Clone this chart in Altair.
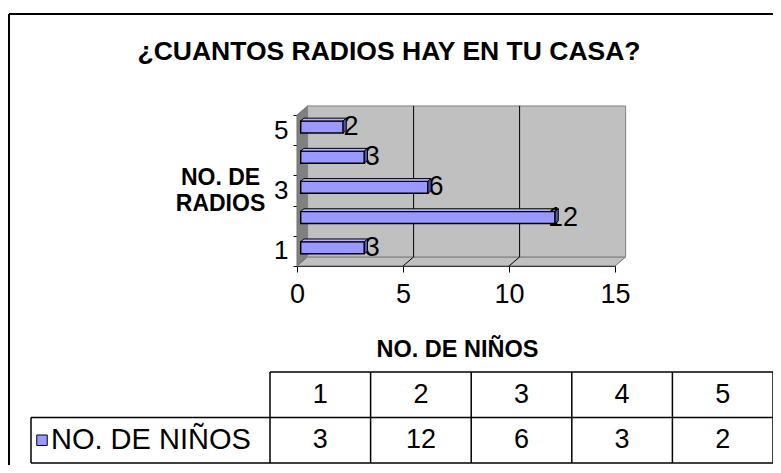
import altair as alt
import pandas as pd

# ---------------- data ----------------
TITLE = "¿CUANTOS RADIOS HAY EN TU CASA?"
X_TITLE = "NO. DE NIÑOS"
Y_TITLE = ["NO. DE", "RADIOS"]
SERIES_NAME = "NO. DE NIÑOS"

radios = [1, 2, 3, 4, 5]          # categories (NO. DE RADIOS)
ninos = [3, 12, 6, 3, 2]          # values (NO. DE NIÑOS)
x_ticks = [0, 5, 10, 15]
y_labels = [1, 3, 5]

# ---------------- style / geometry ----------------
FONT = "Liberation Sans"
NUM_SIZE = 27
BAR_FRONT = "#9999FF"
BAR_TOP = "#B3B3FF"
BAR_END = "#5555AA"
WALL = "#C0C0C0"
SIDE = "#808080"

OX, OY = 297, 115          # page position of plot origin
W, H = 318, 151            # plot area
PAGE_W, PAGE_H = 765, 457
X_MIN, X_MAX = 0, 15
Y_MIN, Y_MAX = 0.5, 5.5
DX, DY = 0.5, 0.3          # 3-D depth expressed in data units
F0, F1 = 0.35, 0.65        # bar depth (fraction of box depth)
HALF = 0.2                 # half bar thickness in category units

xs = alt.Scale(domain=[X_MIN, X_MAX], nice=False, zero=False)
ys = alt.Scale(domain=[Y_MIN, Y_MAX], nice=False, zero=False)

x_axis = alt.Axis(values=x_ticks, tickSize=6, labelPadding=9, labelFontSize=NUM_SIZE,
                  labelFont=FONT, labelColor="black", labelFlush=False, labelOverlap=False,
                  domainColor="black", tickColor="black", grid=False,
                  title=X_TITLE, titleFont=FONT, titleFontSize=23.5, titleFontWeight="bold",
                  titleColor="black", titleX=W / 2 + 1, titleY=83, titleBaseline="middle",
                  titleAlign="center")

label_pos = [v - 0.5 for v in y_labels]
label_expr = f"indexof({label_pos}, datum.value) >= 0 ? format(datum.value + 0.5, 'd') : ''"
y_axis = alt.Axis(values=[r - 0.5 for r in radios] + [radios[-1] + 0.5],
                  labelExpr=label_expr, labelOffset=-(H / len(radios)) / 2,
                  tickSize=4, labelPadding=5, labelFontSize=NUM_SIZE - 1, labelFont=FONT,
                  labelColor="black", labelFlush=False, labelOverlap=False,
                  domainColor="black", tickColor="black", grid=False,
                  title=Y_TITLE, titleAngle=0, titleX=-77, titleY=51, titleAlign="center",
                  titleBaseline="top", titleLineHeight=26, titleFont=FONT,
                  titleFontSize=23, titleFontWeight="bold", titleColor="black")


def X(f):
    return alt.X(f"{f}:Q", scale=xs, axis=x_axis, stack=None)


def Y(f):
    return alt.Y(f"{f}:Q", scale=ys, axis=y_axis, stack=None)


# ---------------- 3-D box ----------------
side_df = pd.DataFrame({"x": [X_MIN, X_MIN + DX], "y": [Y_MIN, Y_MIN + DY],
                        "y2": [Y_MAX, Y_MAX + DY]})
floor_df = pd.DataFrame({"y": [Y_MIN, Y_MIN + DY], "x": [X_MIN, X_MIN + DX],
                         "x2": [X_MAX, X_MAX + DX]})
wall_df = pd.DataFrame({"x": [X_MIN + DX], "x2": [X_MAX + DX],
                        "y": [Y_MIN + DY], "y2": [Y_MAX + DY]})
grid_rows = []
for t in x_ticks[1:-1]:
    grid_rows.append({"x": t + DX, "x2": t + DX, "y": Y_MIN + DY, "y2": Y_MAX + DY})
    grid_rows.append({"x": t, "x2": t + DX, "y": Y_MIN, "y2": Y_MIN + DY})
grid_df = pd.DataFrame(grid_rows)

side = alt.Chart(side_df).mark_area(orient="vertical", fill=SIDE, stroke="#707070",
                                    strokeWidth=1).encode(
    x=X("x"), y=Y("y"), y2=alt.Y2("y2"))
floor = alt.Chart(floor_df).mark_area(orient="horizontal", fill=WALL, stroke="#707070",
                                      strokeWidth=1).encode(
    y=Y("y"), x=X("x"), x2=alt.X2("x2"))
wall = alt.Chart(wall_df).mark_rect(fill=WALL, stroke="#808080", strokeWidth=1).encode(
    x=X("x"), x2=alt.X2("x2"), y=Y("y"), y2=alt.Y2("y2"))
grid = alt.Chart(grid_df).mark_rule(color="black", strokeWidth=1).encode(
    x=X("x"), x2=alt.X2("x2"), y=Y("y"), y2=alt.Y2("y2"))

# ---------------- bars ----------------
front_df = pd.DataFrame({
    "cat": radios,
    "v": ninos,
    "x": [X_MIN + F0 * DX] * len(radios),
    "x2": [v + F0 * DX for v in ninos],
    "y": [c - HALF + F0 * DY for c in radios],
    "y2": [c + HALF + F0 * DY for c in radios],
    "ym": [c + F0 * DY for c in radios],
})
top_rows, end_rows = [], []
for c, v in zip(radios, ninos):
    for f in (F0, F1):
        top_rows.append({"cat": c, "y": c + HALF + f * DY, "x": X_MIN + f * DX, "x2": v + f * DX})
        end_rows.append({"cat": c, "x": v + f * DX, "y": c - HALF + f * DY, "y2": c + HALF + f * DY})
top_df = pd.DataFrame(top_rows)
end_df = pd.DataFrame(end_rows)

bar_front = alt.Chart(front_df).mark_rect(fill=BAR_FRONT, stroke="black", strokeWidth=1.5).encode(
    x=X("x"), x2=alt.X2("x2"), y=Y("y"), y2=alt.Y2("y2"))
bar_top = alt.Chart(top_df).mark_area(orient="horizontal", fill=BAR_TOP, stroke="black",
                                      strokeWidth=1).encode(
    y=Y("y"), x=X("x"), x2=alt.X2("x2"), detail="cat:N")
bar_labels = alt.Chart(front_df).mark_text(align="center", baseline="middle", dx=8,
                                           fontSize=NUM_SIZE, font=FONT, color="black").encode(
    x=X("x2"), y=Y("ym"), text="v:Q")
bar_end = alt.Chart(end_df).mark_area(orient="vertical", fill=BAR_END, stroke="black",
                                      strokeWidth=1).encode(
    x=X("x"), y=Y("y"), y2=alt.Y2("y2"), detail="cat:N")

plot = alt.layer(side, floor, wall, grid, bar_front, bar_top, bar_labels, bar_end)

# ---------------- data table ----------------
COL_LEFT, COL_RIGHT = 270, 773          # page x of table value columns
ROW_TOP, ROW_BOTTOM = 372, 463          # page y of table
LEGEND_LEFT = 31
LEGEND_W = (COL_LEFT - LEGEND_LEFT) / ((COL_RIGHT - COL_LEFT) / len(radios))
LEFT = radios[0] - 0.5 - LEGEND_W

tx = alt.Scale(domain=[radios[0] - 0.5, radios[-1] + 0.5], range=[COL_LEFT - OX, COL_RIGHT - OX],
               nice=False, zero=False)
ty = alt.Scale(domain=[0, 2], range=[ROW_TOP - OY, ROW_BOTTOM - OY], nice=False, zero=False)


def TX(f):
    return alt.X(f"{f}:Q", scale=tx, axis=None)


def TY(f):
    return alt.Y(f"{f}:Q", scale=ty, axis=None)


bounds = [r - 0.5 for r in radios] + [radios[-1] + 0.5]
hlines = pd.DataFrame({"x": [bounds[0], LEFT, LEFT], "x2": [bounds[-1]] * 3, "y": [0, 1, 2]})
vlines = pd.DataFrame({"x": bounds + [LEFT], "y": [0] * len(bounds) + [1],
                       "y2": [2] * (len(bounds) + 1)})
tab_df = pd.DataFrame({"cat": radios, "v": ninos, "hy": [0.5] * 5, "vy": [1.5] * 5})
leg_df = pd.DataFrame({"name": [SERIES_NAME], "x": [LEFT], "y": [1.5]})

t_h = alt.Chart(hlines).mark_rule(color="black", strokeWidth=1.5).encode(
    x=TX("x"), x2=alt.X2("x2"), y=TY("y"))
t_v = alt.Chart(vlines).mark_rule(color="black", strokeWidth=1.5).encode(
    x=TX("x"), y=TY("y"), y2=alt.Y2("y2"))
t_head = alt.Chart(tab_df).mark_text(fontSize=NUM_SIZE, font=FONT, color="black",
                                     baseline="middle").encode(
    x=TX("cat"), y=TY("hy"), text="cat:Q")
t_vals = alt.Chart(tab_df).mark_text(fontSize=NUM_SIZE, font=FONT, color="black",
                                     baseline="middle").encode(
    x=TX("cat"), y=TY("vy"), text="v:Q")
t_sym = alt.Chart(leg_df).mark_square(size=110, filled=True, fill=BAR_FRONT, stroke="black",
                                      strokeWidth=1, opacity=1, xOffset=11).encode(
    x=TX("x"), y=TY("y"))
t_name = alt.Chart(leg_df).mark_text(fontSize=29, font=FONT, color="black", align="left",
                                     baseline="middle", dx=20).encode(
    x=TX("x"), y=TY("y"), text="name:N")

title_df = pd.DataFrame({"t": [TITLE]})
title = alt.Chart(title_df).mark_text(fontSize=26.5, font=FONT, fontWeight="bold", color="black",
                                      align="center", baseline="middle").encode(
    x=alt.value(389 - OX), y=alt.value(52 - OY), text="t:N")
border_top = alt.Chart(title_df).mark_rule(color="black", strokeWidth=2).encode(
    x=alt.value(9 - OX), x2=alt.value(PAGE_W + 8 - OX), y=alt.value(14 - OY))
border_left = alt.Chart(title_df).mark_rule(color="black", strokeWidth=2).encode(
    x=alt.value(9 - OX), y=alt.value(14 - OY), y2=alt.value(PAGE_H + 8 - OY + 20))

table = alt.layer(t_h, t_v, t_head, t_vals, t_sym, t_name, title, border_top, border_left)

chart = alt.layer(plot, table).resolve_scale(x="independent", y="independent").properties(
    width=W, height=H,
    autosize=alt.AutoSizeParams(type="none"),
    padding={"left": OX - 8, "top": OY - 8, "right": PAGE_W - (OX - 8) - W,
             "bottom": PAGE_H - (OY - 8) - H},
    background="white",
).configure_view(stroke=None)

chart.save("out.html", embed_options={"renderer": "svg", "actions": False})
